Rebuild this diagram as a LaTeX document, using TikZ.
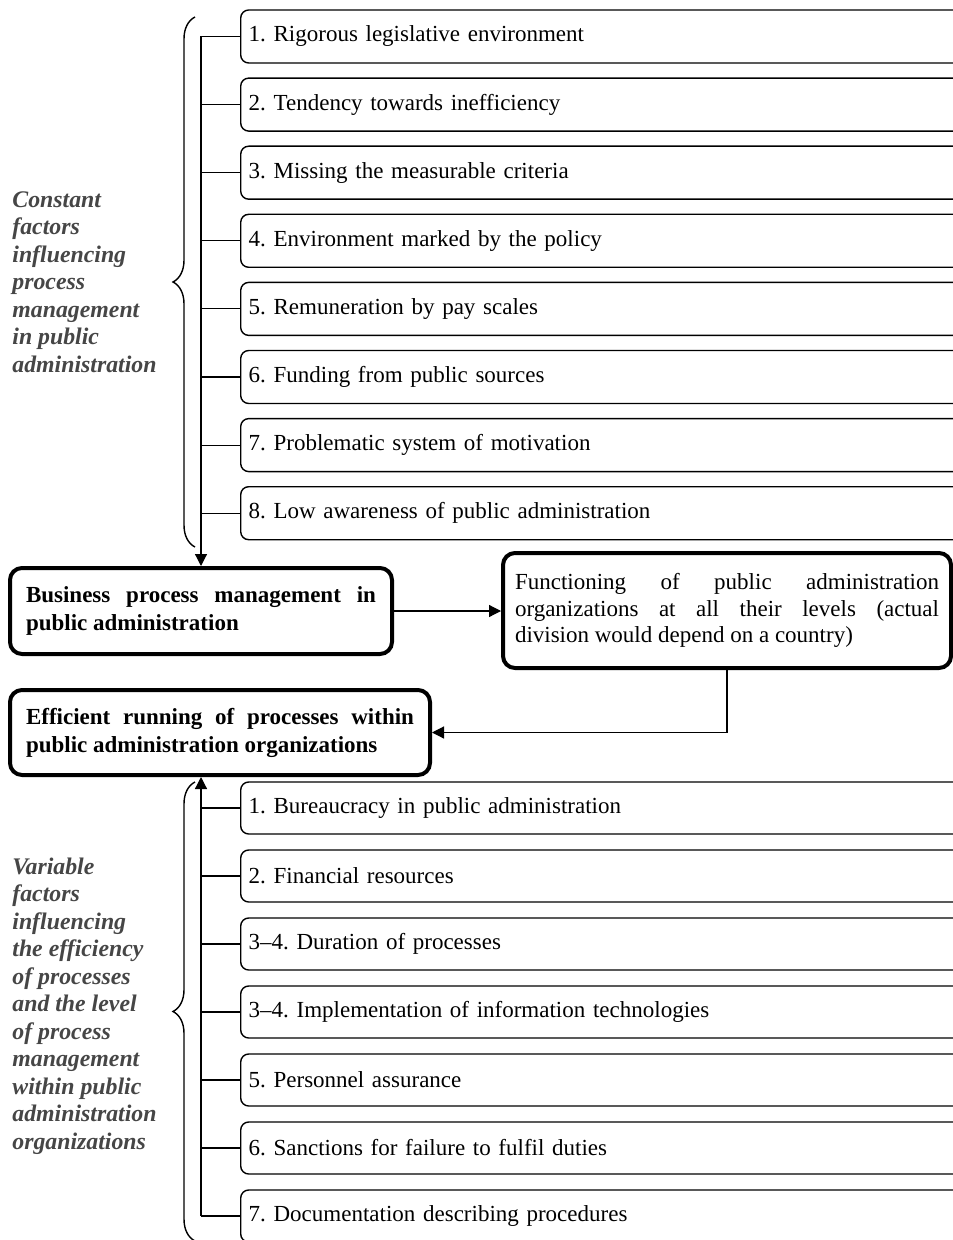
\documentclass[tikz,border=0pt]{standalone}
\usepackage{fontspec}
\setmainfont{Liberation Serif}
\usetikzlibrary{arrows.meta,decorations.pathreplacing}
\definecolor{labelgray}{RGB}{70,70,70}
\frenchspacing
\begin{document}
\begin{tikzpicture}[x=0.5pt,y=-0.5pt,
  txt/.style={font=\fontsize{11.5}{13.3}\selectfont},
  smallbox/.style={txt,draw,line width=0.7pt,rounded corners=4pt,anchor=west,
    minimum width=368pt,minimum height=26.5pt,text width=360pt,inner xsep=4pt,align=left},
  bigbox/.style={draw,line width=2pt,rounded corners=6pt,inner xsep=6pt},
  conn/.style={line width=0.6pt},
  arr/.style={conn,-{Triangle[length=6pt,width=6pt]}},
  sidelabel/.style={font=\fontsize{11.9}{13.75}\selectfont\bfseries\itshape,text=labelgray,
    align=left,anchor=west,inner sep=0pt},
  bracestyle/.style={line width=0.7pt,decorate,decoration={brace,amplitude=11pt}}
]
\useasboundingbox (0,0) rectangle (952,1240);

% constant factors
\node[smallbox] (c1) at (240,36.5) {1. Rigorous legislative environment};
\node[smallbox] (c2) at (240,104.6) {2. Tendency towards inefficiency};
\node[smallbox] (c3) at (240,172.7) {3. Missing the measurable criteria};
\node[smallbox] (c4) at (240,240.8) {4. Environment marked by the policy};
\node[smallbox] (c5) at (240,308.9) {5. Remuneration by pay scales};
\node[smallbox] (c6) at (240,377.0) {6. Funding from public sources};
\node[smallbox] (c7) at (240,445.1) {7. Problematic system of motivation};
\node[smallbox] (c8) at (240,513.2) {8. Low awareness of public administration};

% central boxes
\node[bigbox,minimum width=191pt,minimum height=43pt,text width=175pt,align=justify,
  font=\fontsize{11.5}{14}\selectfont\bfseries] (bpm) at (201,611)
  {Business process management in\linebreak public administration};
\node[bigbox,minimum width=224pt,minimum height=57.5pt,text width=212pt,align=justify,
  txt] (func) at (727,610.5)
  {Functioning of public administration\linebreak organizations at all their levels (actual\linebreak division would depend on a country)};
\node[bigbox,minimum width=210pt,minimum height=42.5pt,text width=194pt,align=justify,
  font=\fontsize{11.5}{14}\selectfont\bfseries] (eff) at (220,732.5)
  {Efficient running of processes within\linebreak public administration organizations};

% variable factors
\node[smallbox,minimum height=26pt] (v1) at (240,808) {1. Bureaucracy in public administration};
\node[smallbox,minimum height=26pt] (v2) at (240,876) {2. Financial resources};
\node[smallbox,minimum height=26pt] (v3) at (240,944) {3--4. Duration of processes};
\node[smallbox,minimum height=26pt] (v4) at (240,1012) {3--4. Implementation of information technologies};
\node[smallbox,minimum height=26pt] (v5) at (240,1080) {5. Personnel assurance};
\node[smallbox,minimum height=26pt] (v6) at (240,1148) {6. Sanctions for failure to fulfil duties};
\node[smallbox,minimum height=26pt] (v7) at (240,1216) {7. Documentation describing procedures};

% side labels
\node[sidelabel] (lc) at (12,282) {Constant\\factors\\influencing\\process\\management\\in public\\administration};
\node[sidelabel] (lv) at (12,1006) {Variable\\factors\\influencing\\the efficiency\\of processes\\and the level\\of process\\management\\within public\\administration\\organizations};

% braces
\coordinate (bc1) at (195,547);
\coordinate (bc2) at (195,17);
\coordinate (bv1) at (195,1241);
\coordinate (bv2) at (195,782);
\draw[bracestyle] (bc1) -- (bc2);
\draw[bracestyle] (bv1) -- (bv2);

% top trunk
\coordinate (tt) at (201,36.5);
\foreach \n in {c1,c2,c3,c4,c5,c6,c7,c8} {
  \draw[conn] (\n.west) -- (\n.west -| tt);
}
\draw[arr] (tt) -- (bpm.north);

% bottom trunk
\coordinate (bt) at (201,1216);
\foreach \n in {v1,v2,v3,v4,v5,v6,v7} {
  \draw[conn] (\n.west) -- (\n.west -| bt);
}
\draw[arr] (bt) -- (eff.south -| bt);

% main flow
\draw[arr] (bpm.east) -- (bpm.east -| func.west);
\draw[arr] (func.south) |- (eff.east);
\end{tikzpicture}
\end{document}
